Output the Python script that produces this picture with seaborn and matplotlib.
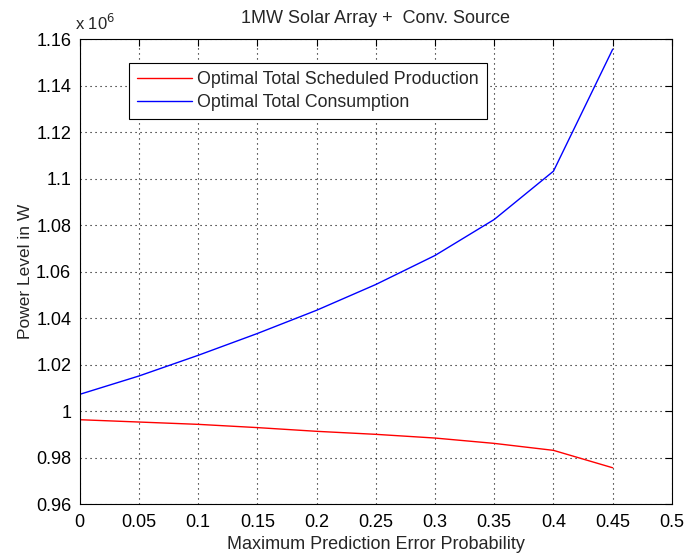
import numpy as np
import pandas as pd
import matplotlib
matplotlib.use("Agg")
import matplotlib.pyplot as plt
import seaborn as sns

# Maximum prediction error probability (x axis)
error_prob = [0.0, 0.05, 0.10, 0.15, 0.20, 0.25, 0.30, 0.35, 0.40, 0.45]

# Power levels in units of 10^6 W
scheduled_production = [0.9963, 0.9953, 0.9943, 0.9929, 0.9913, 0.9900,
                        0.9884, 0.9861, 0.9831, 0.9756]
total_consumption = [1.0072, 1.0151, 1.0240, 1.0334, 1.0434, 1.0545,
                     1.0670, 1.0825, 1.1033, 1.1558]

series_names = ["Optimal Total Scheduled Production", "Optimal Total Consumption"]
x_ticks = [0, 0.05, 0.1, 0.15, 0.2, 0.25, 0.3, 0.35, 0.4, 0.45, 0.5]
x_tick_labels = ["0", "0.05", "0.1", "0.15", "0.2", "0.25", "0.3", "0.35", "0.4", "0.45", "0.5"]
y_ticks = [0.96, 0.98, 1.0, 1.02, 1.04, 1.06, 1.08, 1.1, 1.12, 1.14, 1.16]
y_tick_labels = ["0.96", "0.98", "1", "1.02", "1.04", "1.06", "1.08", "1.1", "1.12", "1.14", "1.16"]

df = pd.DataFrame({
    "p": error_prob * 2,
    "power": scheduled_production + total_consumption,
    "series": [series_names[0]] * len(error_prob) + [series_names[1]] * len(error_prob),
})

sns.set_theme(style="white")
plt.rcParams["font.family"] = ["Liberation Sans", "DejaVu Sans"]

fig = plt.figure(figsize=(6.86, 5.56), dpi=100)
ax = fig.add_axes([0.116, 0.0935, 0.8635, 0.8355])

sns.lineplot(data=df, x="p", y="power", hue="series", hue_order=series_names,
             palette=["#ff0000", "#0000ff"], linewidth=1.0, ax=ax, legend=True)

ax.set_xlim(0, 0.5)
ax.set_ylim(0.96, 1.16)
ax.set_xticks(x_ticks)
ax.set_xticklabels(x_tick_labels)
ax.set_yticks(y_ticks)
ax.set_yticklabels(y_tick_labels)
ax.tick_params(axis="both", direction="in", length=5, width=0.8, colors="black",
               labelsize=13, top=True, right=True)
ax.tick_params(axis="x", pad=7)
ax.tick_params(axis="y", pad=6)
ax.grid(True, linestyle=(0, (1, 3.5)), color="black", linewidth=0.8)
for s in ax.spines.values():
    s.set_visible(True)
    s.set_color("black")
    s.set_linewidth(0.8)

ax.set_xlabel("Maximum Prediction Error Probability", fontsize=13, labelpad=4)
ax.set_ylabel("Power Level in W", fontsize=12.5, labelpad=2)
ax.set_title("1MW Solar Array +  Conv. Source", fontsize=13, pad=12)
ax.text(-0.008, 1.014, r"x 10$^{6}$", transform=ax.transAxes, fontsize=12,
        ha="left", va="bottom")

leg = ax.legend(loc="upper left", bbox_to_anchor=(0.0834, 0.949), fontsize=12.8,
                frameon=True, fancybox=False, edgecolor="black", framealpha=1,
                borderpad=0.45, handlelength=3.1, handletextpad=0.3, labelspacing=0.35,
                borderaxespad=0)
leg.get_frame().set_linewidth(0.8)

fig.savefig("out.png", dpi=100, facecolor="white")
